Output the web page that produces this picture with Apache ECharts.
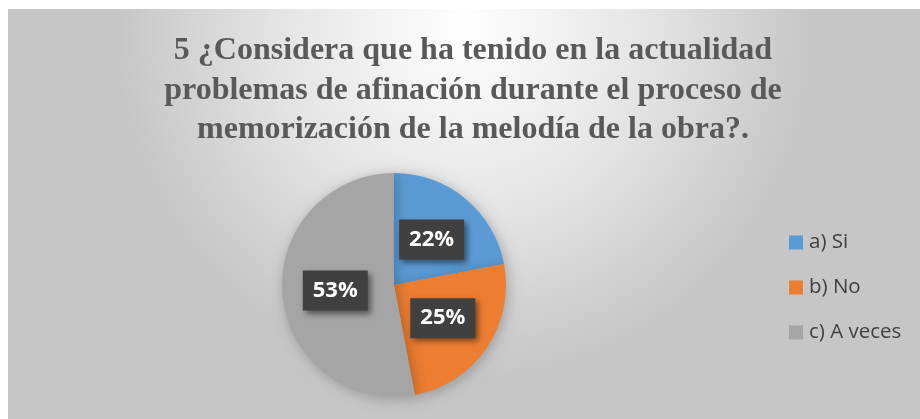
<!DOCTYPE html>
<html>
<head>
<meta charset="utf-8">
<script src="https://cdn.jsdelivr.net/npm/echarts@6/dist/echarts.min.js"></script>
<style>
  html, body { margin: 0; padding: 0; background: #fff; }
  #chart { width: 920px; height: 419px; }
</style>
</head>
<body>
<div id="chart"></div>
<script>
const categories = ['a) Si', 'b) No', 'c) A veces'];
const values = [22, 25, 53];
const colors = ['#5b9bd5', '#ed7d31', '#a5a5a5'];
const titleText = '5 ¿Considera que ha tenido en la actualidad\nproblemas de afinación durante el proceso de\nmemorización de la melodía de la obra?.';

const chart = echarts.init(document.getElementById('chart'));

const option = {
  backgroundColor: '#fff',
  animation: false,
  graphic: [{
    type: 'rect',
    z: -10,
    shape: { x: 8, y: 9, width: 912, height: 410 },
    style: {
      fill: new echarts.graphic.RadialGradient(0.5, 0.05, 0.85, [
        { offset: 0, color: '#ffffff' },
        { offset: 0.55, color: '#e3e3e3' },
        { offset: 1, color: '#c6c6c6' }
      ])
    }
  }],
  title: {
    text: titleText,
    left: 468,
    textAlign: 'center',
    top: 26,
    textStyle: {
      fontFamily: 'Liberation Serif',
      fontWeight: 'bold',
      fontSize: 32,
      lineHeight: 39.5,
      color: '#595959'
    }
  },
  legend: {
    orient: 'vertical',
    left: 789,
    top: 232,
    padding: 0,
    itemWidth: 14,
    itemHeight: 14,
    itemGap: 24,
    icon: 'rect',
    textStyle: {
      fontFamily: 'Open Sans',
      fontSize: 20.5,
      lineHeight: 20,
      color: '#404040',
      padding: [0, 0, 0, 1]
    },
    data: categories
  },
  series: [{
    type: 'pie',
    center: [394, 285],
    radius: [0, 112],
    startAngle: 90,
    clockwise: true,
    itemStyle: {
      shadowBlur: 14,
      shadowColor: 'rgba(0,0,0,0.25)',
      shadowOffsetX: 2,
      shadowOffsetY: 2
    },
    label: {
      position: 'inside',
      formatter: '{d}%',
      fontFamily: 'Open Sans',
      fontWeight: 'bold',
      fontSize: 22,
      color: '#fff',
      backgroundColor: '#404040',
      padding: [10, 10, 8, 10],
      shadowBlur: 6,
      shadowColor: 'rgba(0,0,0,0.5)',
      shadowOffsetX: 3,
      shadowOffsetY: 3
    },
    labelLine: { show: false },
    data: categories.map((name, i) => ({
      name: name,
      value: values[i],
      itemStyle: { color: colors[i] }
    }))
  }]
};

chart.setOption(option);
</script>
</body>
</html>
